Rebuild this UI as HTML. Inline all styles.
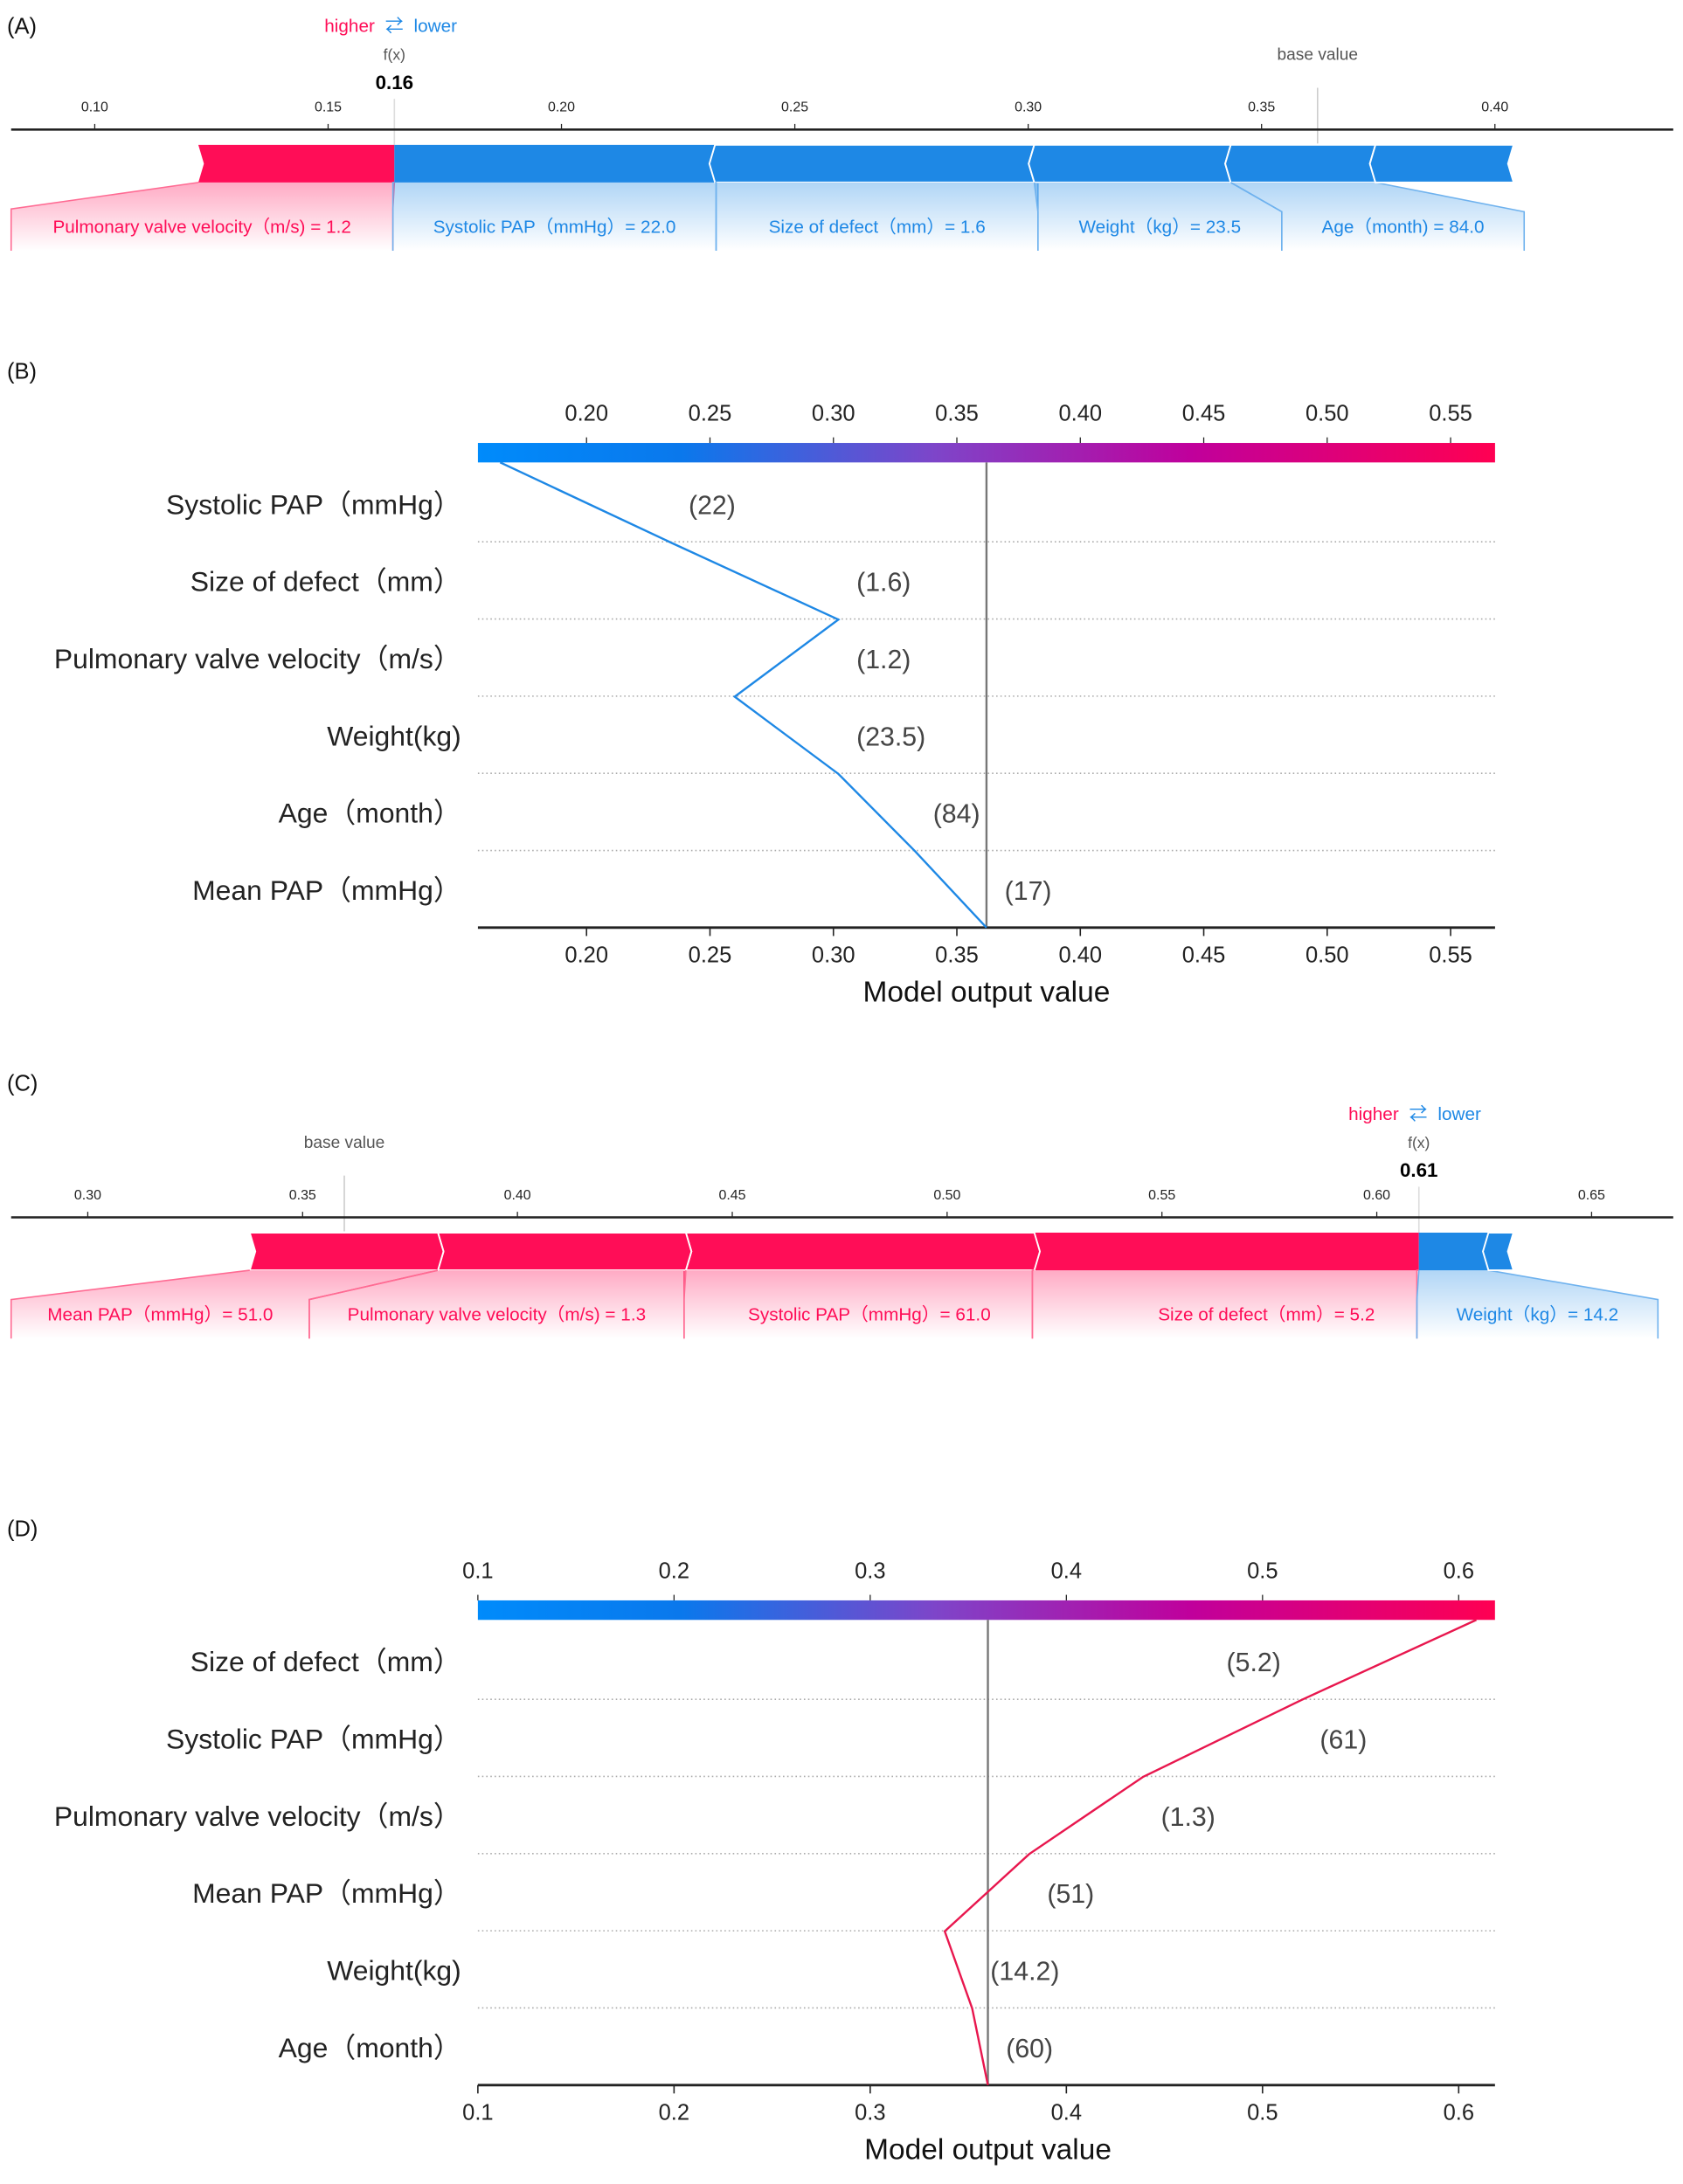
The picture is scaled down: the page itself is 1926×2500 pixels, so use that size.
<!DOCTYPE html>
<html><head><meta charset="utf-8">
<style>
html,body{margin:0;padding:0;background:#fff;}
svg{display:block;font-family:"Liberation Sans","Noto Sans CJK SC",sans-serif;}
</style></head>
<body>
<svg id="root" width="1926" height="2500" viewBox="0 0 1208 1568" xmlns="http://www.w3.org/2000/svg">
<defs>
<linearGradient id="cbar" x1="0" x2="1" y1="0" y2="0">
<stop offset="0" stop-color="#008bfb"/><stop offset="0.2" stop-color="#0a78ec"/>
<stop offset="0.45" stop-color="#7e45c9"/><stop offset="0.7" stop-color="#c0009c"/>
<stop offset="1" stop-color="#ff0052"/></linearGradient>
<linearGradient id="gRed" x1="0" x2="0" y1="0" y2="1"><stop offset="0" stop-color="#ff0d57" stop-opacity="0.35"/><stop offset="1" stop-color="#ff0d57" stop-opacity="0"/></linearGradient>
<linearGradient id="gBlue" x1="0" x2="0" y1="0" y2="1"><stop offset="0" stop-color="#1e88e5" stop-opacity="0.35"/><stop offset="1" stop-color="#1e88e5" stop-opacity="0"/></linearGradient>
</defs>
<text x="5" y="24" font-size="16" fill="#111">(A)</text>
<text x="5" y="272" font-size="16" fill="#111">(B)</text>
<text x="5" y="783" font-size="16" fill="#111">(C)</text>
<text x="5" y="1103" font-size="16" fill="#111">(D)</text>
<g id="pA"></g>
<g id="pB"></g>
<g id="pC"></g>
<g id="pD"></g>
</svg>
<script>
// ---- Force plot A data ----
const baseA = 0.362;
const redLabelsA = ["Pulmonary valve velocity（m/s) = 1.2"];
const redValsA = [0.042];
const blueLabelsA = ["Systolic PAP（mmHg）= 22.0","Size of defect（mm）= 1.6","Weight（kg）= 23.5","Age（month) = 84.0",""];
const blueValsA = [0.0687,0.0684,0.0421,0.031,0.0296];
const ticksA = [0.10,0.15,0.20,0.25,0.30,0.35,0.40];
// ---- Force plot C data ----
const baseC = 0.3597;
const redLabelsC = ["Size of defect（mm）= 5.2","Systolic PAP（mmHg）= 61.0","Pulmonary valve velocity（m/s) = 1.3","Mean PAP（mmHg）= 51.0"];
const redValsC = [0.0895,0.0811,0.0577,0.0438];
const blueLabelsC = ["Weight（kg）= 14.2",""];
const blueValsC = [0.0162,0.0058];
const ticksC = [0.30,0.35,0.40,0.45,0.50,0.55,0.60,0.65];
// ---- Decision plot B data ----
const featB = ["Systolic PAP（mmHg）","Size of defect（mm）","Pulmonary valve velocity（m/s）","Weight(kg)","Age（month）","Mean PAP（mmHg）"];
const valB = ["(22)","(1.6)","(1.2)","(23.5)","(84)","(17)"];
const contribB = [-0.069,-0.068,0.042,-0.042,-0.031,-0.029];
const baseB = 0.362;
const ticksB = [0.20,0.25,0.30,0.35,0.40,0.45,0.50,0.55];
// ---- Decision plot D data ----
const featD = ["Size of defect（mm）","Systolic PAP（mmHg）","Pulmonary valve velocity（m/s）","Mean PAP（mmHg）","Weight(kg)","Age（month）"];
const valD = ["(5.2)","(61)","(1.3)","(51)","(14.2)","(60)"];
const contribD = [0.089,0.081,0.058,0.043,-0.014,-0.008];
const baseD = 0.36;
const ticksD = [0.1,0.2,0.3,0.4,0.5,0.6];

const NS="http://www.w3.org/2000/svg";
function mk(parent,tag,attrs,text){const e=document.createElementNS(NS,tag);for(const k in attrs)e.setAttribute(k,attrs[k]);if(text!==undefined)e.textContent=text;parent.appendChild(e);return e;}

function force(g,o){
  const x=o.x;
  const sr=o.redVals.reduce((a,b)=>a+b,0), sb=o.blueVals.reduce((a,b)=>a+b,0);
  const fx=o.base+sr-sb;
  let t=mk(g,'text',{x:o.hx-14,y:o.hy,'font-size':13,fill:'#ff0d57','text-anchor':'end'},'higher');
  
  
  t=mk(g,'text',{x:o.hx,y:o.hy,'font-size':13,fill:'#1e88e5','text-anchor':'middle'},'⇄');
  
  
  t=mk(g,'text',{x:o.hx+14,y:o.hy,'font-size':13,fill:'#1e88e5'},'lower');
  
  
  t=mk(g,'text',{x:x(fx),y:o.ay-50,'font-size':11,fill:'#555','text-anchor':'middle'},'f(x)');
  
  
  t=mk(g,'text',{x:x(fx),y:o.ay-29,'font-size':14,'font-weight':'bold',fill:'#000','text-anchor':'middle'},fx.toFixed(2));
  
  
  t=mk(g,'text',{x:x(o.base),y:o.ay-50,'font-size':12,fill:'#555','text-anchor':'middle'},'base value');
  
  
  let l=mk(g,'line',{x1:x(o.base),x2:x(o.base),y1:o.ay-30,y2:o.ay+10,stroke:'#ccc','stroke-width':1});
  
  
  l=mk(g,'line',{x1:x(fx),x2:x(fx),y1:o.ay-22,y2:o.ay+11,stroke:'#ddd','stroke-width':1});
  
  
  l=mk(g,'line',{x1:8,x2:1201,y1:o.ay,y2:o.ay,stroke:'#222','stroke-width':1.6});
  
  
  o.ticks.forEach(v=>{
    const tk=mk(g,'line',{x1:x(v),x2:x(v),y1:o.ay-4,y2:o.ay,stroke:'#222','stroke-width':0.8});
    
    
    const tl=mk(g,'text',{x:x(v),y:o.ay-13,'font-size':10,fill:'#222','text-anchor':'middle'},v.toFixed(2));
    
    
  });
  const top=o.ay+11, bot=top+27, mid=top+13.5, tip=4;
  let cur=fx;
  o.redVals.forEach((v,i)=>{
    const x1=x(cur), x0=x(cur-v); cur-=v;
    const rt=i===0?0:tip;
    const p=mk(g,'polygon',{points:`${x0},${top} ${x1},${top} ${x1+rt},${mid} ${x1},${bot} ${x0},${bot} ${x0+tip},${mid}`,fill:'#ff0d57',stroke:'#fff','stroke-width':i===0?0:1.2});
    
    
    const b=o.redBoxes[i];
    const lp=mk(g,'polygon',{points:`${x0},${bot} ${x1},${bot} ${b[1]},${bot+b[2]} ${b[1]},${bot+49} ${b[0]},${bot+49} ${b[0]},${bot+b[2]}`,fill:'url(#gRed)',stroke:'none'});
    
    
    const pl=mk(g,'polyline',{points:`${x0},${bot} ${b[0]},${bot+b[2]} ${b[0]},${bot+49}`,fill:'none',stroke:'#ff6b93','stroke-width':1});
    
    
    const pr=mk(g,'polyline',{points:`${x1},${bot} ${b[1]},${bot+b[2]} ${b[1]},${bot+49}`,fill:'none',stroke:'#ff6b93','stroke-width':1});
    
    
    const tx=mk(g,'text',{x:(b[0]+b[1])/2+(b[3]||0),y:bot+36,'font-size':13,fill:'#ff0d57','text-anchor':'middle'},o.redLabels[i]);
    
    
  });
  cur=fx;
  o.blueVals.forEach((v,i)=>{
    const x0=x(cur), x1=x(cur+v); cur+=v;
    const lt=i===0?0:tip;
    const p=mk(g,'polygon',{points:`${x0},${top} ${x1},${top} ${x1-tip},${mid} ${x1},${bot} ${x0},${bot} ${x0-lt},${mid}`,fill:'#1e88e5',stroke:'#fff','stroke-width':i===0?0:1.2});
    
    
    const b=o.blueBoxes[i];
    if(!b) return;
    const lp=mk(g,'polygon',{points:`${x0},${bot} ${x1},${bot} ${b[1]},${bot+b[2]} ${b[1]},${bot+49} ${b[0]},${bot+49} ${b[0]},${bot+b[2]}`,fill:'url(#gBlue)',stroke:'none'});
    
    
    const pl=mk(g,'polyline',{points:`${x0},${bot} ${b[0]},${bot+b[2]} ${b[0]},${bot+49}`,fill:'none',stroke:'#6fb2ee','stroke-width':1});
    
    
    const pr=mk(g,'polyline',{points:`${x1},${bot} ${b[1]},${bot+b[2]} ${b[1]},${bot+49}`,fill:'none',stroke:'#6fb2ee','stroke-width':1});
    
    
    const tx=mk(g,'text',{x:(b[0]+b[1])/2+(b[3]||0),y:bot+36,'font-size':13,fill:'#1e88e5','text-anchor':'middle'},o.blueLabels[i]);
    
    
  });
}

function decision(g,o){
  const x=o.x, n=o.feat.length;
  const rowY=i=>o.r0+i*o.rs;
  const cbTop=o.r0-44, cbBot=o.r0-30, axY=rowY(n-1)+27;
  let r=mk(g,'rect',{x:x(o.lo),y:cbTop,width:x(o.hi)-x(o.lo),height:cbBot-cbTop,fill:'url(#cbar)'});
  
  
  o.ticks.forEach(v=>{
    const a=mk(g,'line',{x1:x(v),x2:x(v),y1:cbTop-4,y2:cbTop,stroke:'#222','stroke-width':0.8});
    
    
    const b=mk(g,'text',{x:x(v),y:cbTop-16,'font-size':16,fill:'#222','text-anchor':'middle'},o.fmt(v));
    
    
    const c=mk(g,'line',{x1:x(v),x2:x(v),y1:axY,y2:axY+6,stroke:'#222','stroke-width':1});
    
    
    const d=mk(g,'text',{x:x(v),y:axY+25,'font-size':16,fill:'#222','text-anchor':'middle'},o.fmt(v));
    
    
  });
  for(let i=0;i<n-1;i++){
    const gl=mk(g,'line',{x1:x(o.lo),x2:x(o.hi),y1:rowY(i)+27,y2:rowY(i)+27,stroke:'#aaa','stroke-width':1,'stroke-dasharray':'1,2'});
    
    
  }
  let l=mk(g,'line',{x1:x(o.base),x2:x(o.base),y1:cbBot,y2:axY,stroke:'#777','stroke-width':1.5});
  
  
  l=mk(g,'line',{x1:x(o.lo),x2:x(o.hi),y1:axY,y2:axY,stroke:'#222','stroke-width':1.8});
  
  
  const t=mk(g,'text',{x:x(o.base),y:axY+53,'font-size':21,fill:'#111','text-anchor':'middle'},'Model output value');
  
  
  const pts=[]; let cum=o.base; pts.push([x(cum),axY]);
  const px=new Array(n+1); px[n]=x(cum);
  for(let i=n-1;i>=0;i--){cum+=o.contrib[i]; const yy=i===0?cbBot:rowY(i)-28; pts.push([x(cum),yy]); px[i]=x(cum);}
  const pl=mk(g,'polyline',{points:pts.map(p=>p.join(',')).join(' '),fill:'none',stroke:o.color,'stroke-width':1.5});
  
  
  for(let i=0;i<n;i++){
    const fl=mk(g,'text',{x:331,y:rowY(i)+7,'font-size':20,fill:'#222','text-anchor':'end'},o.feat[i]);
    
    
    const mx=Math.max(px[i],px[i+1]), mn=Math.min(px[i],px[i+1]);
    const w=o.val[i].length*9.5;
    let vx=mx+13, anc='start';
    if(vx+w>x(o.hi)-5){vx=mn-15;anc='end';}
    const vl=mk(g,'text',{x:vx,y:rowY(i)+7,'font-size':19,fill:'#444','text-anchor':anc},o.val[i]);
    
    
  }
}

force(document.getElementById('pA'),{x:v=>68+(v-0.10)*3350,base:baseA,redVals:redValsA,redLabels:redLabelsA,blueVals:blueValsA,blueLabels:blueLabelsA,ticks:ticksA,ay:93,hx:283,hy:23,
  redBoxes:[[8,282,19]],blueBoxes:[[282,514,0],[514,745,0],[745,920,21],[920,1094,21]]});
force(document.getElementById('pC'),{x:v=>63+(v-0.3)*3084,base:baseC,redVals:redValsC,redLabels:redLabelsC,blueVals:blueValsC,blueLabels:blueLabelsC,ticks:ticksC,ay:874,hx:1018,hy:804,
  redBoxes:[[741,1017,0,30],[491,741,0,8],[222,491,21,0],[8,222,21,0]],blueBoxes:[[1017,1190,21]]});
decision(document.getElementById('pB'),{x:v=>421+(v-0.2)*1772,lo:0.156,hi:0.568,base:baseB,feat:featB,val:valB,contrib:contribB,ticks:ticksB,fmt:v=>v.toFixed(2),r0:362,rs:55.4,color:'#1e88e5'});
decision(document.getElementById('pD'),{x:v=>343+(v-0.1)*1408,lo:0.1,hi:0.6185,base:baseD,feat:featD,val:valD,contrib:contribD,ticks:ticksD,fmt:v=>v.toFixed(1),r0:1193,rs:55.4,color:'#e8174e'});
</script>
</body></html>
